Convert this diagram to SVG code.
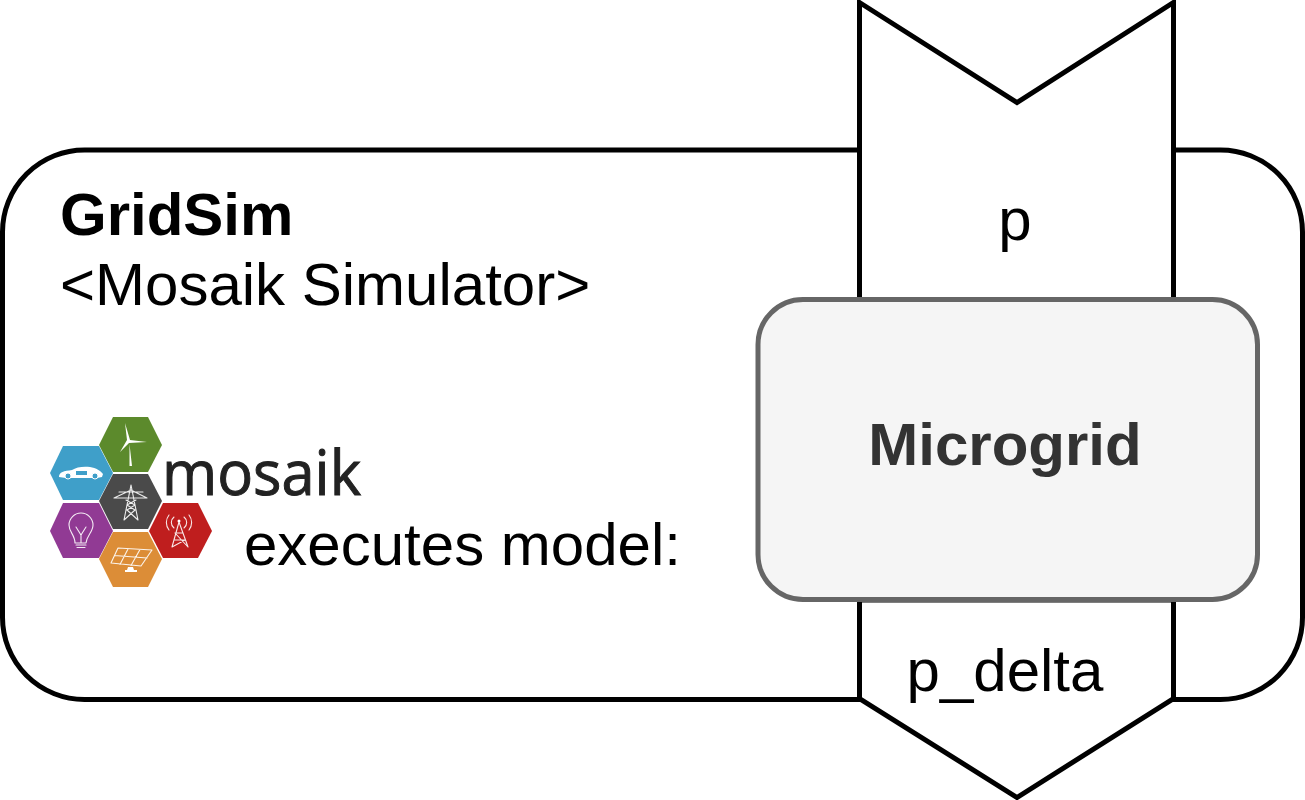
<svg xmlns="http://www.w3.org/2000/svg" width="1305" height="800" viewBox="0 0 1305 800">
<style>
.t{font-family:"Liberation Sans",Arial,sans-serif;font-size:60px;fill:#000}
.hex{stroke:none}
.ln{fill:#fff;stroke:#000;stroke-width:5}
.ic{fill:none;stroke:#fff;stroke-width:1.1;stroke-linejoin:round;stroke-linecap:round;opacity:.9}
.fl{fill:#fff;stroke:none}
</style>
<rect width="1305" height="800" fill="#fff"/>
<g id="gridsim">
<rect class="ln" x="2.500" y="150" width="1300" height="549.500" rx="82" ry="82"/>
<text class="t" x="60" y="235" font-weight="bold">GridSim</text>
<text class="t" x="60" y="305">&lt;Mosaik Simulator&gt;</text>
<text class="t" x="244" y="565">executes model:</text>
</g>
<g id="connectors">
<path class="ln" d="M859.500 2.500L1017 102.500L1173.500 2.500V300H859.500Z"/>
<path class="ln" d="M859.500 600H1173.500V698.500L1017 797.500L859.500 698.500Z"/>
<text class="t" x="1015" y="240" text-anchor="middle">p</text>
<text class="t" x="1005" y="691" text-anchor="middle">p_delta</text>
</g>
<g id="microgrid">
<rect x="758" y="299.500" width="499.500" height="300" rx="45" ry="45" fill="#f5f5f5" stroke="#666" stroke-width="5"/>
<text x="1005" y="465" text-anchor="middle" font-family="Liberation Sans,Arial,sans-serif" font-size="60" font-weight="bold" fill="#333">Microgrid</text>
</g>
<g id="mosaik-logo">
<polygon class="hex" fill="#5c8a2c" points="99,445 113,417 148,417 162,445 148,472 113,472"/>
<polygon class="hex" fill="#3f9fc9" points="50,473 63,446 99,446 113,473 99,500 63,500"/>
<polygon class="hex" fill="#4a4a4a" points="99,501 113,474 148,474 162,501 148,529 113,529"/>
<polygon class="hex" fill="#913a94" points="50,531 63,503 99,503 113,531 99,558 63,558"/>
<polygon class="hex" fill="#bf1e1e" points="149,531 163,503 198,503 212,531 198,558 163,558"/>
<polygon class="hex" fill="#dc8d37" points="99,559 113,532 148,532 162,559 148,587 113,587"/>
<path class="fl" d="M125,423L130,440L147,442L129,443L120,452L127,440ZM129.500,444L132,466H129.500Z"/>
<path class="fl" d="M59,477C59,472 64,471 72,470C76,467 84,466 90,467C96,468 101,471 103,474L102,477L97,478H66Z"/>
<circle cx="68" cy="476" r="3" fill="#3f9fc9" stroke="#fff"/>
<circle cx="95" cy="476" r="3" fill="#3f9fc9" stroke="#fff"/>
<rect x="76" y="471" width="11" height="4" fill="#3f9fc9"/>
<path class="ic" d="M131,485L124,520M131,485L138,520M124,520L135,510L127,505L136,500M138,520L127,510L135,505L126,500M114,498L131,490L147,498ZM119,492H143"/>
<path class="ic" d="M75,543C75,535 69,532 69,525A12,12 0 1 1 93,525C93,532 87,535 86,543ZM76,527L81,535L86,527M81,535V543M76,545H86M77,547.500H85"/>
<path class="ic" d="M179,522L172,547M179,522L188,547M175,533H183M174,540H185M172,547L185,540M188,547L175,533"/>
<path class="ic" d="M174,517A7,7 0 0 0 174,528M184,517A7,7 0 0 1 184,528M169,515A12,12 0 0 0 169,530M189,515A12,12 0 0 1 189,530"/>
<circle cx="179" cy="521" r="1.500" fill="#fff"/>
<path class="ic" d="M118,548L152,550L141,566L111,563ZM114.500,555.500L147,558M128,549L120,564.500M140,549.500L131,565.500"/>
<path class="fl" d="M128,567H133L134,570H137V572H125V570H127Z"/>
<text x="162" y="495" font-family="Open Sans,Liberation Sans,sans-serif" font-size="62" fill="#222" stroke="#222" stroke-width="1" textLength="199" lengthAdjust="spacingAndGlyphs">mosaik</text>
</g>
</svg>
